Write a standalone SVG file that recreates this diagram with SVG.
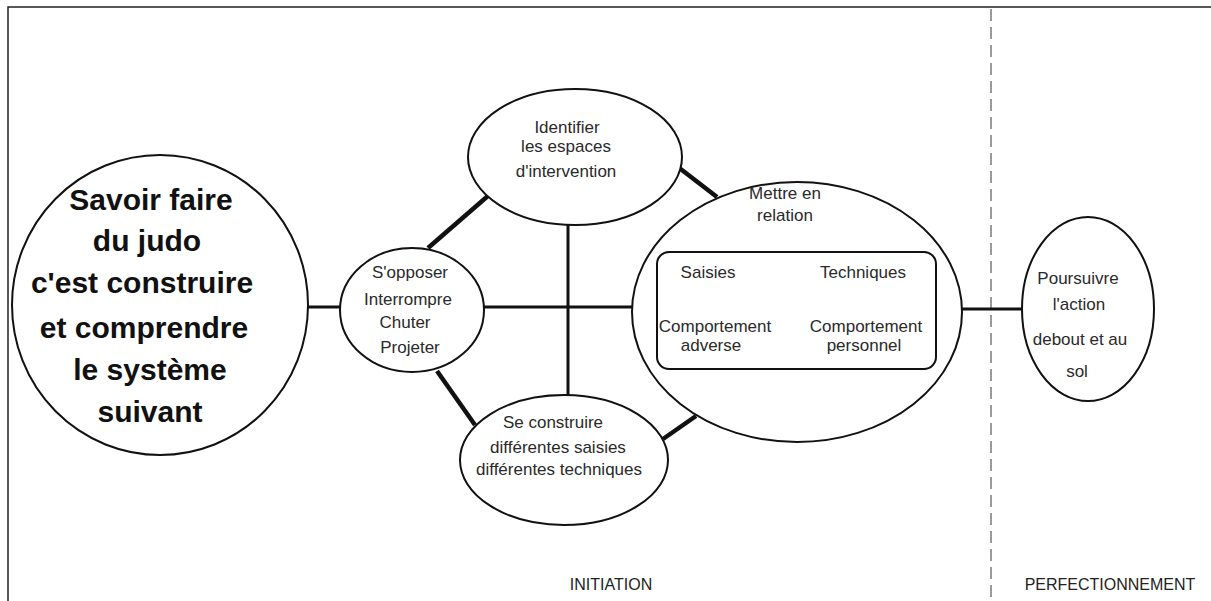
<svg xmlns="http://www.w3.org/2000/svg" width="1211" height="601" viewBox="0 0 1211 601">
<style>
.bg{fill:#fff}
.node{fill:#fff;stroke:#111;stroke-width:2}
.t{font-family:"Liberation Sans",Arial,sans-serif;font-size:17px;fill:#2a2a2a;text-anchor:middle}
.big{font-family:"Liberation Sans",Arial,sans-serif;font-size:30px;font-weight:bold;fill:#111;text-anchor:middle}
.lbl{font-family:"Liberation Sans",Arial,sans-serif;font-size:16px;fill:#222;text-anchor:middle}
.thin{stroke:#111;stroke-width:3;fill:none}
.thick{stroke:#111;stroke-width:4.5;fill:none}
.frame{stroke:#222;stroke-width:1.5;fill:none}
.dash{stroke:#666;stroke-width:1.3;stroke-dasharray:12 6;fill:none}
</style>
<rect class="bg" x="0" y="0" width="1211" height="601"/>
<g id="frame">
<polyline class="frame" points="8,601 8,7 1211,7"/>
<line class="dash" x1="991" y1="9" x2="991" y2="601"/>
<text class="lbl" x="611" y="590">INITIATION</text>
<text class="lbl" x="1110" y="590">PERFECTIONNEMENT</text>
</g>
<g id="connectors">
<line class="thin" x1="308" y1="307" x2="341" y2="307"/>
<line class="thin" x1="484" y1="307" x2="633" y2="307"/>
<line class="thin" x1="568" y1="224" x2="568" y2="396"/>
<line class="thick" x1="428" y1="248" x2="489" y2="195"/>
<line class="thick" x1="437" y1="371" x2="475" y2="425"/>
<line class="thick" x1="678" y1="167" x2="717" y2="197"/>
<line class="thick" x1="663" y1="439" x2="696" y2="416"/>
<line class="thin" x1="962" y1="309" x2="1022" y2="309"/>
</g>
<g id="main">
<ellipse class="node" cx="160" cy="305" rx="148" ry="150"/>
<text class="big" x="151" y="210">Savoir faire</text>
<text class="big" x="147" y="251">du judo</text>
<text class="big" x="142" y="293">c'est construire</text>
<text class="big" x="144" y="338">et comprendre</text>
<text class="big" x="150" y="380">le système</text>
<text class="big" x="150" y="422">suivant</text>
</g>
<g id="sopposer">
<ellipse class="node" cx="412" cy="310" rx="72" ry="62"/>
<text class="t" x="410" y="278">S'opposer</text>
<text class="t" x="408" y="305">Interrompre</text>
<text class="t" x="405" y="328">Chuter</text>
<text class="t" x="410" y="353">Projeter</text>
</g>
<g id="identifier">
<ellipse class="node" cx="575" cy="157" rx="107" ry="68"/>
<text class="t" x="567" y="133">Identifier</text>
<text class="t" x="566" y="152">les espaces</text>
<text class="t" x="566" y="177">d'intervention</text>
</g>
<g id="seconstruire">
<ellipse class="node" cx="564" cy="460" rx="104" ry="65"/>
<text class="t" x="553" y="428">Se construire</text>
<text class="t" x="558" y="453">différentes saisies</text>
<text class="t" x="559" y="475">différentes techniques</text>
</g>
<g id="mettre">
<ellipse class="node" cx="797" cy="312" rx="165" ry="130"/>
<text class="t" x="785" y="199">Mettre en</text>
<text class="t" x="785" y="221">relation</text>
<rect class="node" x="657" y="252" width="279" height="117" rx="12" ry="12"/>
<text class="t" x="708" y="278">Saisies</text>
<text class="t" x="863" y="278">Techniques</text>
<text class="t" x="715" y="332">Comportement</text>
<text class="t" x="711" y="351">adverse</text>
<text class="t" x="866" y="332">Comportement</text>
<text class="t" x="864" y="351">personnel</text>
</g>
<g id="poursuivre">
<ellipse class="node" cx="1088" cy="309" rx="66" ry="92"/>
<text class="t" x="1078" y="284">Poursuivre</text>
<text class="t" x="1079" y="310">l'action</text>
<text class="t" x="1080" y="345">debout et au</text>
<text class="t" x="1077" y="377">sol</text>
</g>
</svg>
